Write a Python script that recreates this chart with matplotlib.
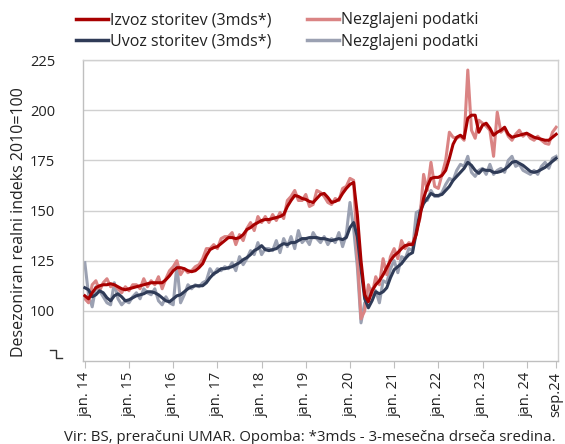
import matplotlib
matplotlib.use("Agg")
import matplotlib.pyplot as plt
from matplotlib.lines import Line2D
import numpy as np

plt.rcParams['font.family'] = ['Open Sans', 'DejaVu Sans']

# Monthly data jan 2014 .. sep 2024
izvoz_3mds = [
    107.5, 106, 109, 111.5, 112.5, 113, 113, 113.5, 113, 112, 111, 110.5,
    111, 111.5, 112, 112.5, 113, 113.5, 114, 114, 114, 114, 115.5, 117.5,
    120, 121.5, 121.5, 121, 120, 119.5, 120, 121.5, 123.5, 127.5, 130.5, 131.5,
    132, 133.5, 135, 136.5, 136.5, 136, 136.5, 138, 140.5, 141.5, 143, 144,
    145, 145.5, 145.5, 146, 146.5, 147, 148, 152, 155, 157.5, 157, 156,
    155.5, 154.5, 154, 156, 158, 158.5, 156.5, 154, 154.5, 155.5, 158.5, 161,
    163, 164, 148, 125, 108, 104.5, 110, 113, 115, 118, 121.5, 125,
    127.5, 129, 131, 132.5, 133, 133, 138, 147, 156, 162, 166, 166.5,
    166.5, 167.5, 170, 176, 183, 186.5, 187.5, 186, 196, 197.5, 197.5, 189,
    192.5, 193.5, 191, 187.5, 189, 190, 191.5, 188, 186.5, 187, 187.5, 188,
    188.5, 187.5, 186.5, 186, 185.5, 185, 185, 186.5, 188,
]
izvoz_raw = [
    106, 104, 113, 115, 110, 114, 116, 112, 113, 111, 109, 112,
    110, 113, 113, 111, 116, 112, 115, 113, 117, 111, 116, 120,
    122, 125, 118, 121, 119, 120, 122, 123, 126, 131, 131, 133,
    131, 136, 137, 137, 139, 133, 138, 135, 141, 144, 140, 147,
    144, 147, 144, 148, 145, 149, 146, 155, 157, 160, 155, 155,
    158, 152, 153, 160, 159, 157, 154, 153, 156, 155, 161, 162,
    166, 165, 128, 96, 100, 113, 108, 117, 113, 126, 118, 127,
    131, 126, 135, 131, 134, 133, 140, 146, 168, 160, 174, 162,
    161, 168, 175, 189, 186.5, 186, 187, 185, 220, 190, 186, 195,
    193.5, 192, 190, 177, 199, 189, 191, 187, 185, 188, 190, 187,
    188.5, 186, 185, 187, 185, 183.5, 183, 189, 191.5,
]
uvoz_3mds = [
    111.5, 110.5, 107, 108, 110, 109, 106.5, 105, 107.5, 108.5, 107, 105,
    105.5, 106.5, 107.5, 108, 108.5, 109.5, 109.5, 109, 108, 106.5, 105, 104.5,
    106, 107.5, 108, 109.5, 111, 112, 112.5, 112.5, 112.5, 114, 116.5, 118.5,
    119.5, 121, 121, 121.5, 122, 123, 124, 125.5, 126.5, 128, 130, 131,
    132.5, 130.5, 130, 130.5, 131, 132.5, 133.5, 133, 134, 134, 135, 136,
    136, 136.5, 136.5, 136.5, 136, 136, 135.5, 135, 135.5, 136, 135.5, 136.5,
    141.5, 144, 137, 121, 106, 101.5, 105, 109.5, 108.5, 109.5, 111.5, 116.5,
    120.5, 122, 123.5, 126, 128, 129, 139, 149, 153.5, 156, 158.5, 157.5,
    157.5, 158, 160, 162, 165, 167, 169, 171, 174, 172.5, 170, 168.5,
    170.5, 170, 170, 169, 169, 169.5, 170.5, 172, 174, 174.5, 173.5, 172.5,
    171, 169.5, 169, 169.5, 170.5, 171.5, 173, 174.5, 176,
]
uvoz_raw = [
    124, 108, 102, 112, 110, 107, 104, 103, 114, 106, 103, 105,
    104, 107, 109, 106, 111, 109, 108, 111, 105, 103, 107, 104,
    103, 123, 104, 108, 113, 111, 113, 112, 114, 115, 121, 118,
    121, 120, 122, 121, 124, 120, 127, 123, 126, 130, 128, 134,
    128, 131, 131, 130, 135, 129, 136, 132, 137, 131, 140, 134,
    136, 133, 139, 136, 134, 137, 133, 136, 134, 139, 132, 138,
    154, 141, 122, 94, 104, 106, 111, 110, 104, 115, 114, 121,
    125, 119, 127, 126, 131, 130, 149, 150, 157, 155, 160, 157,
    157, 159, 163, 166, 165, 170, 173, 172, 177, 169, 167, 170,
    171, 168, 173, 168, 170, 171, 169, 175, 177, 172, 173, 170,
    169, 168, 170, 168, 172, 174, 171, 176, 177,
]
tick_pos = [0, 12, 24, 36, 48, 60, 72, 84, 96, 108, 120, 128]
tick_labels = ["jan. 14", "jan. 15", "jan. 16", "jan. 17", "jan. 18", "jan. 19",
               "jan. 20", "jan. 21", "jan. 22", "jan. 23", "jan. 24", "sep.24"]
y_ticks = [100, 125, 150, 175, 200, 225]

W, H = 565, 444
fig = plt.figure(figsize=(W / 100, H / 100), dpi=100)
ax = fig.add_axes([83 / W, 1 - 361 / H, (558 - 83) / W, (361 - 60) / H])

x = np.arange(len(izvoz_3mds))
c_red, c_pink = "#A80000", "#DA8484"
c_navy, c_gray = "#2F3B57", "#9BA1B2"
lw = 2.2
ax.plot(x, uvoz_raw, color=c_gray, lw=lw, zorder=2)
ax.plot(x, izvoz_raw, color=c_pink, lw=lw, zorder=2)
ax.plot(x, uvoz_3mds, color=c_navy, lw=lw, zorder=3)
ax.plot(x, izvoz_3mds, color=c_red, lw=lw, zorder=4)

ax.set_xlim(-0.5, 128.5)
ax.set_ylim(75, 225)
ax.set_yticks(y_ticks)
ax.set_yticklabels([str(v) for v in y_ticks], fontsize=10.5, color="#222222")
ax.tick_params(axis="y", length=0, pad=20)
ax.set_xticks(tick_pos)
ax.set_xticklabels(tick_labels, rotation=90, fontsize=10.5, color="#222222")
ax.tick_params(axis="x", length=5, color="#BFBFBF", pad=3)
ax.grid(axis="y", color="#D0D0D0", lw=1)
ax.set_axisbelow(True)
for s in ax.spines.values():
    s.set_color("#D0D0D0")
    s.set_linewidth(1)
ax.spines["left"].set_color("#BFBFBF")
ax.spines["bottom"].set_color("#BFBFBF")

ax.set_ylabel("Desezoniran realni indeks 2010=100", fontsize=11.5, color="#222222")
ax.yaxis.set_label_coords((27 - 83) / 475, 0.46)

# axis-break mark at 75
def px(xp, yp):
    return xp / W, 1 - yp / H
pts = [px(50, 350), px(56, 350), px(56, 358), px(62, 358)]
fig.add_artist(Line2D([p[0] for p in pts], [p[1] for p in pts], color="#333333", lw=1,
                      transform=fig.transFigure))

handles = [Line2D([], [], color=c_red, lw=2.5), Line2D([], [], color=c_navy, lw=2.5),
           Line2D([], [], color=c_pink, lw=2.5), Line2D([], [], color=c_gray, lw=2.5)]
labels = ["Izvoz storitev (3mds*)", "Uvoz storitev (3mds*)", "Nezglajeni podatki", "Nezglajeni podatki"]
fig.legend(handles, labels, ncol=2, loc="center", bbox_to_anchor=(277 / W, 1 - 31 / H),
           frameon=False, fontsize=11.5, handlelength=2.0, handletextpad=0.15,
           columnspacing=2.2, labelspacing=0.35, labelcolor="#222222")

fig.text(310 / W, 1 - 437 / H, "Vir: BS, preračuni UMAR. Opomba: *3mds - 3-mesečna drseča sredina.",
         ha="center", va="center", fontsize=10.8, color="#222222")

fig.savefig("out.png", dpi=100)
